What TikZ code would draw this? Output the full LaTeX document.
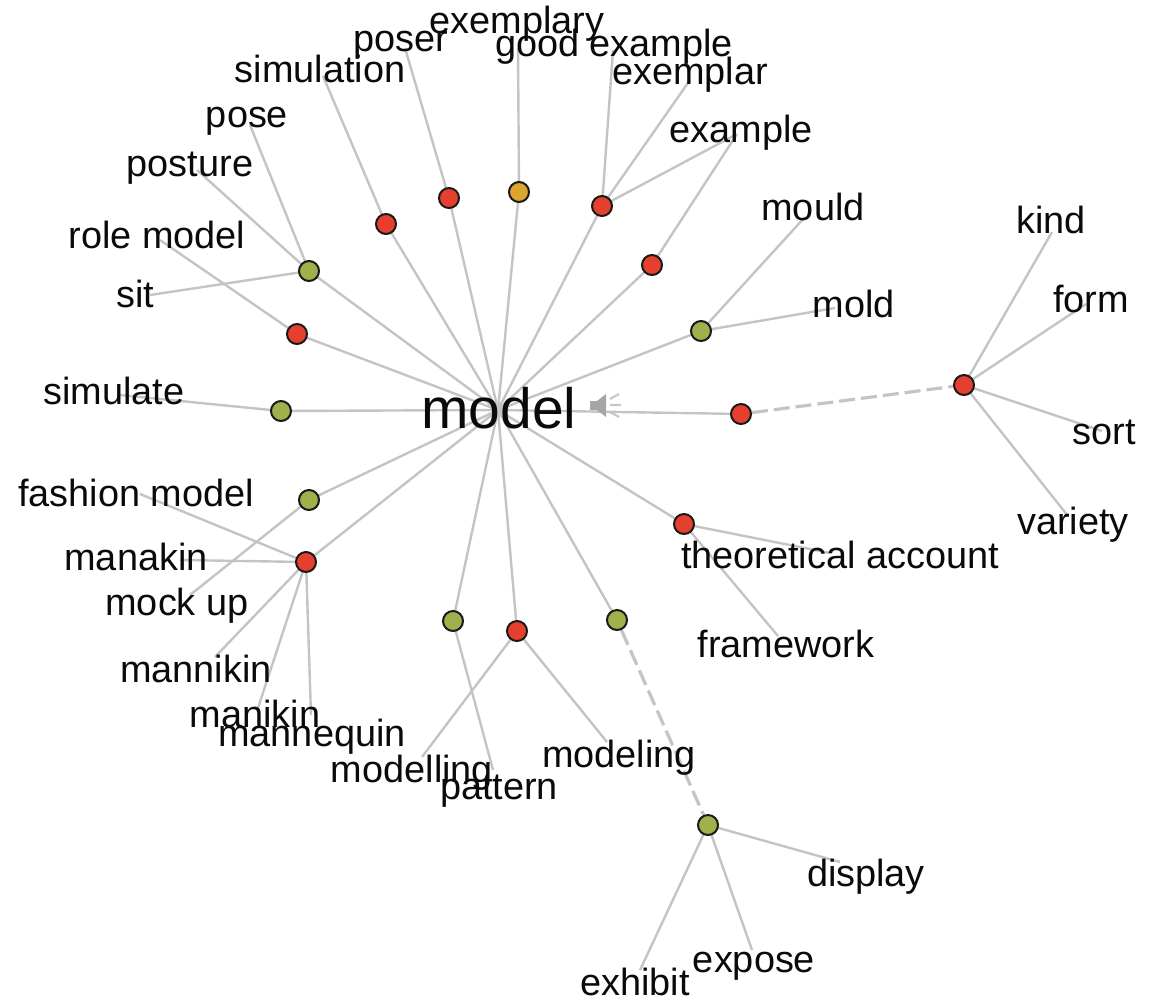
\documentclass[tikz,border=0pt]{standalone}
\usepackage{fontspec}
\setmainfont{Liberation Sans}
\usetikzlibrary{backgrounds}
\definecolor{hubred}{HTML}{E5402D}
\definecolor{hubgreen}{HTML}{A0B04A}
\definecolor{huborange}{HTML}{DDA52D}
\definecolor{edgegray}{HTML}{C4C4C4}
\definecolor{labelink}{HTML}{0A0A0A}
\tikzset{
  hub/.style={circle,draw=black!90,line width=1.5pt,minimum size=15pt,inner sep=0pt},
  red hub/.style={hub,fill=hubred},
  green hub/.style={hub,fill=hubgreen},
  orange hub/.style={hub,fill=huborange},
  word/.style={text=labelink,inner sep=0pt,font=\fontsize{28.4pt}{30pt}\selectfont,anchor=center},
  bigword/.style={text=labelink,inner sep=0pt,font=\fontsize{42.7pt}{44pt}\selectfont,anchor=center},
  link/.style={draw=edgegray,line width=1.8pt},
  dashlink/.style={draw=edgegray,line width=2.4pt,dash pattern=on 12pt off 4.5pt}
}
\begin{document}
\begin{tikzpicture}[x=0.75pt,y=-0.75pt]
\path[use as bounding box] (0,0) rectangle (1151,997);
% centre
\node[bigword] (model) at (499,408) {model};
\coordinate (c) at (498,410);
% hubs
\node[red hub] (h1) at (386,224) {};
\node[red hub] (h2) at (449,198) {};
\node[orange hub] (h3) at (519,192) {};
\node[red hub] (h4) at (602,206) {};
\node[red hub] (h5) at (652,265) {};
\node[green hub] (h6) at (701,331) {};
\node[red hub] (h7) at (741,414) {};
\node[red hub] (h8) at (684,524) {};
\node[green hub] (h9) at (617,620) {};
\node[red hub] (h10) at (517,631) {};
\node[green hub] (h11) at (453,621) {};
\node[red hub] (h12) at (306,562) {};
\node[green hub] (h13) at (309,500) {};
\node[green hub] (h14) at (281,411) {};
\node[red hub] (h15) at (297,334) {};
\node[green hub] (h16) at (309,271) {};
\node[red hub] (h17) at (964,385) {};
\node[green hub] (h18) at (708,825) {};
% labels
\node[word] (exemplary) at (517,24) {exemplary};
\node[word] (poser) at (401,45) {poser};
\node[word] (goodexample) at (614,47) {good example};
\node[word] (simulation) at (320,69) {simulation};
\node[word] (exemplar) at (690,75) {exemplar};
\node[word] (pose) at (247,121) {pose};
\node[word] (example) at (741,133) {example};
\node[word] (posture) at (190,168) {posture};
\node[word] (mould) at (813,207) {mould};
\node[word] (kind) at (1051,220) {kind};
\node[word] (rolemodel) at (157,235) {role model};
\node[word] (sit) at (135,294) {sit};
\node[word] (form) at (1091,299) {form};
\node[word] (mold) at (854,304) {mold};
\node[word] (simulate) at (114,391) {simulate};
\node[word] (sort) at (1104,432) {sort};
\node[word] (fashionmodel) at (136,493) {fashion model};
\node[word] (variety) at (1073,525) {variety};
\node[word] (theoretical) at (840,555) {theoretical account};
\node[word] (manakin) at (136,557) {manakin};
\node[word] (mockup) at (177,606) {mock up};
\node[word] (framework) at (786,644) {framework};
\node[word] (mannikin) at (196,669) {mannikin};
\node[word] (manikin) at (255,714) {manikin};
\node[word] (mannequin) at (312,737) {mannequin};
\node[word] (modeling) at (619,758) {modeling};
\node[word] (modelling) at (412,773) {modelling};
\node[word] (pattern) at (499,791) {pattern};
\node[word] (display) at (866,877) {display};
\node[word] (expose) at (754,966) {expose};
\node[word] (exhibit) at (635,982) {exhibit};
% free ends of the connectors
\coordinate (e-exemplary) at (518,48);
\coordinate (e-poser) at (405,48);
\coordinate (e-good) at (613,50);
\coordinate (e-simulation) at (323,76);
\coordinate (e-exemplar) at (690,80);
\coordinate (e-pose) at (250,125);
\coordinate (e-example) at (737,134);
\coordinate (e-posture) at (197,170);
\coordinate (e-mould) at (805,217);
\coordinate (e-kind) at (1052,232);
\coordinate (e-role) at (160,240);
\coordinate (e-sit) at (150,295);
\coordinate (e-form) at (1086,304);
\coordinate (e-mold) at (835,308);
\coordinate (e-simulate) at (120,395);
\coordinate (e-sort) at (1102,431);
\coordinate (e-fashion) at (140,494);
\coordinate (e-variety) at (1068,516);
\coordinate (e-theoretical) at (830,553);
\coordinate (e-manakin) at (180,560);
\coordinate (e-mock) at (190,595);
\coordinate (e-framework) at (778,636);
\coordinate (e-mannikin) at (215,657);
\coordinate (e-manikin) at (258,708);
\coordinate (e-mannequin) at (311,715);
\coordinate (e-modeling) at (607,742);
\coordinate (e-modelling) at (422,757);
\coordinate (e-pattern) at (493,770);
\coordinate (e-display) at (840,862);
\coordinate (e-expose) at (752,950);
\coordinate (e-exhibit) at (640,970);
\begin{scope}[on background layer]
  \foreach \n in {h1,h2,h3,h4,h5,h6,h7,h8,h9,h10,h11,h12,h13,h14,h15,h16}
    \draw[link] (c) -- (\n.center);
  \draw[dashlink] (h7) -- (h17);
  \draw[dashlink] (h9) -- (h18);
  \draw[link] (h1.center) -- (e-simulation);
  \draw[link] (h2.center) -- (e-poser);
  \draw[link] (h3.center) -- (e-exemplary);
  \draw[link] (h4.center) -- (e-good);
  \draw[link] (h4.center) -- (e-exemplar);
  \draw[link] (h4.center) -- (e-example);
  \draw[link] (h5.center) -- (e-example);
  \draw[link] (h6.center) -- (e-mould);
  \draw[link] (h6.center) -- (e-mold);
  \draw[link] (h8.center) -- (e-theoretical);
  \draw[link] (h8.center) -- (e-framework);
  \draw[link] (h10.center) -- (e-modeling);
  \draw[link] (h10.center) -- (e-modelling);
  \draw[link] (h11.center) -- (e-pattern);
  \draw[link] (h12.center) -- (e-fashion);
  \draw[link] (h12.center) -- (e-manakin);
  \draw[link] (h12.center) -- (e-mannikin);
  \draw[link] (h12.center) -- (e-manikin);
  \draw[link] (h12.center) -- (e-mannequin);
  \draw[link] (h13.center) -- (e-mock);
  \draw[link] (h14.center) -- (e-simulate);
  \draw[link] (h15.center) -- (e-role);
  \draw[link] (h16.center) -- (e-pose);
  \draw[link] (h16.center) -- (e-posture);
  \draw[link] (h16.center) -- (e-sit);
  \draw[link] (h17.center) -- (e-kind);
  \draw[link] (h17.center) -- (e-form);
  \draw[link] (h17.center) -- (e-sort);
  \draw[link] (h17.center) -- (e-variety);
  \draw[link] (h18.center) -- (e-display);
  \draw[link] (h18.center) -- (e-expose);
  \draw[link] (h18.center) -- (e-exhibit);
\end{scope}
% speaker icon
\fill[gray!70] (590,401) -- (597,401) -- (606,394) -- (606,417) -- (597,410) -- (590,410) -- cycle;
\draw[gray!45,line width=1.6pt] (610,399) -- (619,394) (610,405) -- (621,405) (610,412) -- (619,417);
\end{tikzpicture}
\end{document}
